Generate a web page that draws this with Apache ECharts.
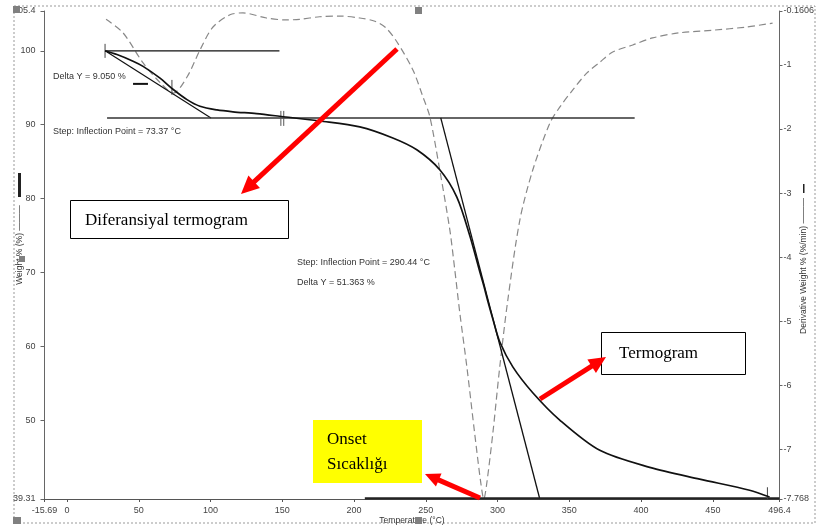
<!DOCTYPE html>
<html><head><meta charset="utf-8">
<script src="https://cdn.jsdelivr.net/npm/echarts@6/dist/echarts.min.js"></script>
<style>html,body{margin:0;padding:0;background:#fff}#c{width:817px;height:528px}</style>
</head><body><div id="c"></div>
<script>
// ---- axis ticks ----
const tempTicks = [-15.69, 0, 50, 100, 150, 200, 250, 300, 350, 400, 450, 496.4];
const weightTicks = [39.31, 50, 60, 70, 80, 90, 100, 105.4];
const derivTicks = [-7.768, -7, -6, -5, -4, -3, -2, -1, -0.1606];

// ---- thermogram (weight %) ----
const weightTemp = [26.5, 34.8, 46, 53, 64.8, 73.8, 83.6, 92.6, 104.5, 115.6, 132, 148, 176, 204, 227, 243.7, 259.7, 271.6, 280.6, 287.6, 290.4, 293.2, 296.7, 301.5, 310.6, 324.5, 343.3, 371.2, 406, 440.8, 475.6, 489.5];
const weightVals = [100, 99.5, 98.6, 97.9, 96.3, 94.8, 93.4, 92.5, 92.0, 91.75, 91.5, 91.15, 90.5, 89.7, 88.2, 86.6, 83.9, 80.2, 75.0, 70.1, 68.2, 66.1, 63.7, 60.6, 57.2, 53.7, 50.0, 45.9, 43.6, 42.0, 40.5, 39.57];

// ---- differential thermogram (derivative weight %/min) ----
const derivTemp = [27.2, 39, 53, 65, 74, 83.6, 92.6, 101.7, 113.5, 122.6, 139, 153, 162, 176, 190, 204, 214.5, 222, 229.8, 241, 248, 252.8, 259.7, 266.7, 270.2, 273.7, 278.6, 284, 288.5, 290.4, 292.3, 296.7, 301.5, 307.1, 315.5, 324.5, 336.4, 343.3, 352.4, 362.1, 371.2, 380.2, 394.2, 408, 426.9, 449.9, 473.5, 491.6];
const derivVals = [-0.29, -0.50, -0.97, -1.28, -1.44, -1.19, -0.77, -0.41, -0.22, -0.19, -0.27, -0.30, -0.29, -0.25, -0.24, -0.27, -0.32, -0.42, -0.64, -1.08, -1.50, -1.81, -2.64, -3.57, -4.20, -4.87, -5.71, -6.74, -7.55, -7.768, -7.55, -6.74, -5.71, -4.67, -3.42, -2.64, -1.91, -1.66, -1.39, -1.13, -0.96, -0.80, -0.69, -0.58, -0.50, -0.46, -0.41, -0.35];

// ---- construction lines (temperature, weight %) ----
const step1Top = [[26.5, 100], [148, 100]];
const step1Tangent = [[27.9, 99.86], [100.3, 90.92]];
const stepBaseline = [[27.9, 90.92], [395.5, 90.92]];
const step2Tangent = [[260.4, 90.92], [329.4, 39.31]];
const onsetLine = [[207.5, 39.4], [496.4, 39.4]];
const deltaDash = [[46, 95.53], [56.4, 95.53]];
const markerA = [[26.5, 100.95], [26.5, 99.05]];
const markerB = [[73.1, 96.07], [73.1, 94.04]];
const markerC1 = [[149, 91.87], [149, 89.84]];
const markerC2 = [[151, 91.87], [151, 89.84]];
const markerD = [[488, 40.9], [488, 39.31]];

const zip = (a, b) => a.map((v, i) => [v, b[i]]);
const chart = echarts.init(document.getElementById('c'), null, {renderer: 'canvas'});

const labelStyle = {fontSize: 9, color: '#444', fontFamily: 'Liberation Sans, Arial, sans-serif'};
const fmt = v => String(v);

function seg(data, width, color) {
  return {type: 'line', data: data, yAxisIndex: 0, showSymbol: false, silent: true,
    lineStyle: {color: color || '#111', width: width}, z: 3};
}

function arrow(x1, y1, x2, y2, w, L, H) {
  const dx = x2 - x1, dy = y2 - y1, len = Math.hypot(dx, dy);
  const ux = dx / len, uy = dy / len, nx = -uy, ny = ux;
  const bx = x2 - ux * L, by = y2 - uy * L;
  return [
    {type: 'line', shape: {x1: x1, y1: y1, x2: bx + ux, y2: by + uy}, style: {stroke: '#ff0000', lineWidth: w}, z: 10},
    {type: 'polygon', shape: {points: [[x2, y2], [bx + nx * H / 2, by + ny * H / 2], [bx - nx * H / 2, by - ny * H / 2]]}, style: {fill: '#ff0000'}, z: 10}
  ];
}

const smallFont = {fontSize: 9, fontFamily: 'Liberation Sans, Arial, sans-serif', fill: '#333'};
const serif = 'Liberation Serif, Times New Roman, serif';

const graphics = [
  {type: 'rect', shape: {x: 14, y: 6, width: 801, height: 517}, style: {fill: 'none', stroke: '#999', lineWidth: 1, lineDash: [2, 2]}, z: 0},
  {type: 'text', style: Object.assign({x: 53, y: 77, text: 'Delta Y = 9.050 %', textVerticalAlign: 'middle'}, smallFont)},
  {type: 'text', style: Object.assign({x: 53, y: 132, text: 'Step: Inflection Point = 73.37 °C', textVerticalAlign: 'middle'}, smallFont)},
  {type: 'text', style: Object.assign({x: 297, y: 263, text: 'Step: Inflection Point = 290.44 °C', textVerticalAlign: 'middle'}, smallFont)},
  {type: 'text', style: Object.assign({x: 297, y: 283, text: 'Delta Y = 51.363 %', textVerticalAlign: 'middle'}, smallFont)},
  // axis titles
  {type: 'text', x: 20, y: 245, rotation: Math.PI / 2, style: Object.assign({x: 0, y: 0, text: 'Weight % (%) ———', textAlign: 'center', textVerticalAlign: 'middle'}, smallFont, {fontSize: 8.5})},
  {type: 'rect', shape: {x: 18, y: 173, width: 3, height: 24}, style: {fill: '#222'}},
  {type: 'text', x: 804, y: 266, rotation: Math.PI / 2, style: Object.assign({x: 0, y: 0, text: 'Derivative Weight % (%/min) ———', textAlign: 'center', textVerticalAlign: 'middle'}, smallFont, {fontSize: 8.5})},
  {type: 'rect', shape: {x: 803, y: 184, width: 1.5, height: 9}, style: {fill: '#222'}},
  {type: 'text', style: Object.assign({x: 412, y: 521, text: 'Temperature (°C)', textAlign: 'center', textVerticalAlign: 'middle'}, smallFont, {fontSize: 8.5})},
  // handles
  {type: 'rect', shape: {x: 13, y: 6, width: 7, height: 7}, style: {fill: '#808080'}, z: 20},
  {type: 'rect', shape: {x: 415, y: 7, width: 7, height: 7}, style: {fill: '#808080'}, z: 20},
  {type: 'rect', shape: {x: 13, y: 517, width: 8, height: 7}, style: {fill: '#808080'}, z: 20},
  {type: 'rect', shape: {x: 415, y: 517, width: 7, height: 7}, style: {fill: '#808080'}, z: 20},
  {type: 'rect', shape: {x: 19, y: 256, width: 6, height: 6}, style: {fill: '#808080'}, z: 20},
  // boxes
  {type: 'rect', shape: {x: 70.5, y: 200.5, width: 218, height: 38}, style: {fill: '#fff', stroke: '#000', lineWidth: 1}, z: 8},
  {type: 'text', style: {x: 85, y: 221, text: 'Diferansiyal termogram', fontSize: 17, fontFamily: serif, fill: '#000', textVerticalAlign: 'middle'}, z: 9},
  {type: 'rect', shape: {x: 601.5, y: 332.5, width: 144, height: 42}, style: {fill: '#fff', stroke: '#000', lineWidth: 1}, z: 8},
  {type: 'text', style: {x: 619, y: 354, text: 'Termogram', fontSize: 17, fontFamily: serif, fill: '#000', textVerticalAlign: 'middle'}, z: 9},
  {type: 'rect', shape: {x: 313, y: 420, width: 109, height: 63}, style: {fill: '#ffff00'}, z: 8},
  {type: 'text', style: {x: 327, y: 440, text: 'Onset', fontSize: 17, fontFamily: serif, fill: '#000', textVerticalAlign: 'middle'}, z: 9},
  {type: 'text', style: {x: 327, y: 465, text: 'Sıcaklığı', fontSize: 17, fontFamily: serif, fill: '#000', textVerticalAlign: 'middle'}, z: 9}
].concat(arrow(397, 49, 241, 194, 5, 18, 17))
 .concat(arrow(540, 399, 606, 357, 5, 17, 16))
 .concat(arrow(480, 498, 425, 474, 5, 15, 14));

const option = {
  animation: false,
  backgroundColor: '#fff',
  grid: {left: 44.5, right: 36, top: 11, bottom: 29},
  xAxis: {
    type: 'value', min: -15.69, max: 496.4,
    axisLine: {onZero: false, lineStyle: {color: '#555', width: 1.2}},
    axisTick: {customValues: tempTicks, length: 3, lineStyle: {color: '#555'}},
    axisLabel: Object.assign({customValues: tempTicks, formatter: fmt, margin: 7}, labelStyle),
    splitLine: {show: false}
  },
  yAxis: [{
    type: 'value', min: 39.31, max: 105.4, position: 'left',
    axisLine: {show: true, onZero: false, lineStyle: {color: '#666'}},
    axisTick: {show: true, customValues: weightTicks, length: 4, lineStyle: {color: '#666'}},
    axisLabel: Object.assign({customValues: weightTicks, formatter: fmt, margin: 9}, labelStyle),
    splitLine: {show: false}
  }, {
    type: 'value', min: -7.768, max: -0.1606, position: 'right',
    axisLine: {show: true, onZero: false, lineStyle: {color: '#666'}},
    axisTick: {show: true, customValues: derivTicks, length: 3, lineStyle: {color: '#666'}},
    axisLabel: Object.assign({customValues: derivTicks, formatter: fmt, margin: 4}, labelStyle),
    splitLine: {show: false}
  }],
  series: [
    {type: 'line', name: 'Termogram', data: zip(weightTemp, weightVals), yAxisIndex: 0, showSymbol: false, smooth: 0.3,
      lineStyle: {color: '#111', width: 1.7}, z: 4},
    {type: 'line', name: 'Diferansiyal termogram', data: zip(derivTemp, derivVals), yAxisIndex: 1, showSymbol: false, smooth: 0.3,
      lineStyle: {color: '#888', width: 1.2, type: [7, 4]}, z: 2},
    seg(step1Top, 1.2), seg(step1Tangent, 1.2), seg(stepBaseline, 1.5, '#333'), seg(step2Tangent, 1.3),
    seg(onsetLine, 2.2, '#222'), seg(deltaDash, 2), seg(markerA, 1, '#444'), seg(markerB, 1, '#444'),
    seg(markerC1, 1, '#555'), seg(markerC2, 1, '#555'), seg(markerD, 1, '#444')
  ],
  graphic: graphics
};
chart.setOption(option);
</script>
</body></html>
